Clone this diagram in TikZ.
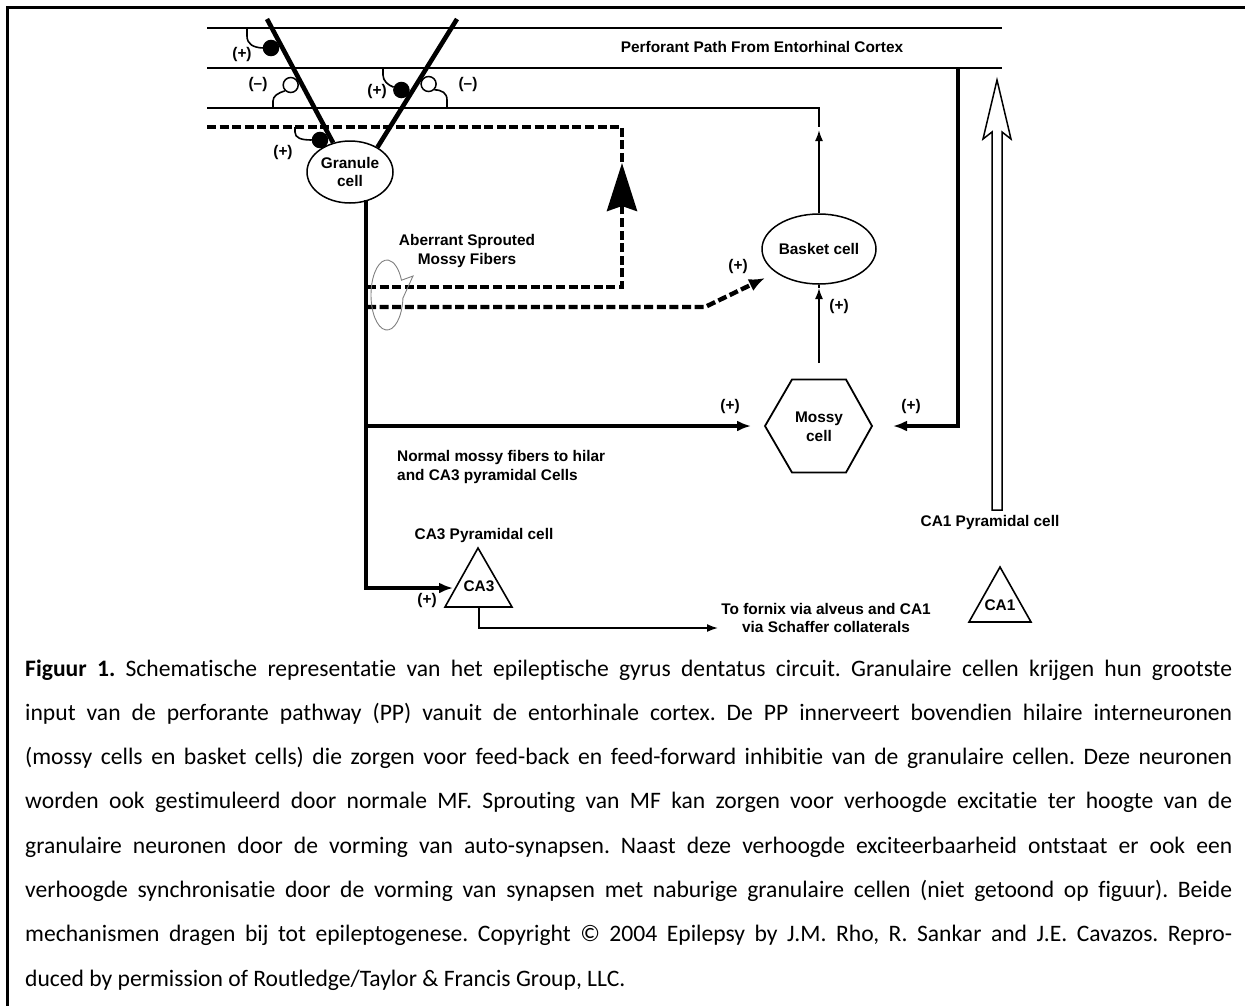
\documentclass[tikz,border=0pt]{standalone}
\usepackage{fontspec}
\setmainfont{Carlito}[Ligatures={NoCommon}]
\newfontfamily\labfont{Liberation Sans}
\usetikzlibrary{arrows.meta,shapes.geometric}
\frenchspacing
\begin{document}
\begin{tikzpicture}[x=1pt,y=-1pt,
  lbl/.style={font=\labfont\bfseries\fontsize{15.4}{18.5}\selectfont, inner sep=0pt, align=center},
  thinln/.style={line width=1.7pt},
  ppln/.style={line width=2.2pt},
  thickln/.style={line width=3.6pt},
  vln/.style={line width=4.6pt},
  dashln/.style={line width=4.4pt, dash pattern=on 9pt off 3.6pt},
  cellshape/.style={draw, line width=1.5pt, ellipse, inner sep=0pt, align=center,
     font=\labfont\bfseries\fontsize{15.4}{18.5}\selectfont},
  syn/.style={circle, draw, line width=1.5pt, minimum size=15pt, inner sep=0pt},
  fsyn/.style={syn, fill=black},
  osyn/.style={syn, fill=white},
  stem/.style={line width=1.6pt},
  tipS/.style={-{Latex[length=11pt,width=8pt]}},
  tipM/.style={-{Latex[length=14pt,width=11pt]}},
  shapeln/.style={line width=1.6pt, line join=miter},
  capline/.style={anchor=base west, inner sep=0pt, font=\fontsize{23.6}{44}\selectfont},
]
\useasboundingbox (0,0) rectangle (1245,1005);
% frame
\draw[line width=3pt, line join=miter] (7.5,1012) -- (7.5,7.5) -- (1252,7.5);

% perforant path lines
\coordinate (ppAL) at (207,28); \coordinate (ppAR) at (1002,28);
\coordinate (ppBL) at (207,68); \coordinate (ppBR) at (1002,68);
\draw[ppln] (ppAL) -- (ppAR);
\draw[ppln] (ppBL) -- (ppBR);
\node[lbl] (pp) at (762,47) {Perforant Path From Entorhinal Cortex};

% inhibitory line from basket cell
\coordinate (mlL) at (207,108); \coordinate (mlR) at (819,127);
\draw[thinln] (mlL) -| (mlR);

% granule cell
\node[cellshape, minimum width=86pt, minimum height=62pt] (granule) at (350,172) {Granule\\cell};
\coordinate (vLtop) at (267,19);
\coordinate (vRtop) at (457,19);
\draw[vln] (vLtop) -- (granule.120);
\draw[vln] (vRtop) -- (granule.42);

% dashed aberrant fibres
\coordinate (dTopL) at (207,127);
\coordinate (dTip) at (622,163);
\coordinate (dUpR) at (622,287);
\coordinate (dUpL) at (367,287);
\draw[dashln] (dTopL) -| (dTip);
\draw[dashln, -{Stealth[length=48pt,width=30pt,inset=5pt]}] (dUpL) -- (dUpR) -- (dTip);
\coordinate (dLoL) at (367,307);
\coordinate (dLoK) at (705,307);
\coordinate (dLoTip) at (765,278);
\draw[dashln, -{Latex[length=16pt,width=13pt]}] (dLoL) -- (dLoK) -- (dLoTip);

% synapses
\node[fsyn] (s1) at (271,48) {};
\node[osyn] (s2) at (290.7,85) {};
\node[fsyn] (s3) at (320,140) {};
\node[fsyn] (s4) at (401.4,90) {};
\node[osyn] (s5) at (428.6,84) {};
\coordinate (st1) at (247,28);
\coordinate (st2) at (273,108);
\coordinate (st4) at (383,68);
\coordinate (st5) at (447,108);
\coordinate (st3) at (295,127);
\draw[stem] (st1) -- ++(0,8) .. controls (247,44) and (253,47.5) .. (s1.west);
\draw[stem] (s2.225) .. controls (278,93) and (273,96) .. (273,101) -- (st2);
\draw[stem] (st4) -- ++(0,7) .. controls (383,81) and (388,85) .. (s4.160);
\draw[stem] (s5.-45) .. controls (442,90) and (447,93) .. (447,100) -- (st5);
\draw[stem] (st3) -- ++(0,5) .. controls (295,138) and (301,140) .. (s3.west);
\node[lbl] (l1) at (242,55) {(+)};
\node[lbl] (l2) at (258,85) {(–)};
\node[lbl] (l3) at (377,92) {(+)};
\node[lbl] (l4) at (468,85) {(–)};
\node[lbl] (l5) at (283,153) {(+)};

% callout
\draw[gray, line width=0.9pt] (402.94,298.05) arc[start angle=5, end angle=335, x radius=16, y radius=35] -- (413,276) -- cycle;
\node[lbl] (aber) at (467,251) {Aberrant Sprouted\\Mossy Fibers};

% basket cell
\node[cellshape, minimum width=114pt, minimum height=70pt] (basket) at (819,249) {Basket cell};
\draw[thinln, tipS] (basket.north) -- (819,130);
\node[lbl] (lb1) at (738,267) {(+)};

% mossy cell
\node[lbl] (mossy) at (819,427) {Mossy\\cell};
\draw[shapeln, line width=1.8pt] (765,426) -- (792,379.5) -- (846,379.5) -- (872,426) -- (846,472.5) -- (792,472.5) -- cycle;
\coordinate (mUp) at (819,363);
\coordinate (bIn) at (819,288);
\draw[thinln, tipS] (mUp) -- (bIn);
\draw[thinln] (basket.south) -- ++(0,3);
\node[lbl] (lb2) at (839,307) {(+)};

% granule axon
\coordinate (gS) at (366,200);
\coordinate (gCorner) at (366,588);
\coordinate (ca3in) at (453,588);
\coordinate (gBranch) at (366,426);
\coordinate (mInL) at (751,426);
\draw[thickln, tipM] (gS) -- (gCorner) -- (ca3in);
\draw[thickln, tipM] (gBranch) -- (mInL);
\node[lbl] (lm1) at (730,407) {(+)};
\node[lbl, align=left, anchor=west] (normal) at (397,467) {Normal mossy fibers to hilar\\and CA3 pyramidal Cells};

% PP to mossy
\coordinate (ppDrop) at (958,68);
\coordinate (mInR) at (893,426);
\draw[thickln, tipM] (ppDrop) -- (958,426) -- (mInR);
\node[lbl] (lm2) at (911,407) {(+)};

% CA3
\draw[shapeln] (478,548) -- (512,607) -- (445,607) -- cycle;
\node[lbl] (ca3) at (479,586) {CA3};
\node[lbl] (ca3lab) at (484,536) {CA3 Pyramidal cell};
\node[lbl] (lc3) at (427,601) {(+)};
\coordinate (ca3out) at (479,607);
\coordinate (fornixIn) at (718,628);
\draw[thinln, tipS] (ca3out) -- (479,628) -- (fornixIn);
\node[lbl] (fornix) at (826,618) {To fornix via alveus and CA1\\via Schaffer collaterals};

% CA1
\draw[shapeln] (1000,567) -- (1031,622) -- (969,622) -- cycle;
\node[lbl] (ca1) at (1000,605) {CA1};
\node[lbl] (ca1lab) at (990,523) {CA1 Pyramidal cell};
\draw[line width=1.5pt, line join=miter, fill=white] (992,510) -- (992,132) -- (983,139) -- (997,80) -- (1011,139) -- (1002,132) -- (1002,510) -- cycle;

% caption
\node[capline] (c1) at (25,676) {\makebox[1207pt][s]{\textbf{Figuur 1.} Schematische representatie van het epileptische gyrus dentatus circuit. Granulaire cellen krijgen hun grootste}};
\node[capline] (c2) at (25,720.3) {\makebox[1207pt][s]{input van de perforante pathway (PP) vanuit de entorhinale cortex. De PP innerveert bovendien hilaire interneuronen}};
\node[capline] (c3) at (25,764.6) {\makebox[1207pt][s]{(mossy cells en basket cells) die zorgen voor feed-back en feed-forward inhibitie van de granulaire cellen. Deze neuronen}};
\node[capline] (c4) at (25,808.9) {\makebox[1207pt][s]{worden ook gestimuleerd door normale MF. Sprouting van MF kan zorgen voor verhoogde excitatie ter hoogte van de}};
\node[capline] (c5) at (25,853.2) {\makebox[1207pt][s]{granulaire neuronen door de vorming van auto-synapsen. Naast deze verhoogde exciteerbaarheid ontstaat er ook een}};
\node[capline] (c6) at (25,897.5) {\makebox[1207pt][s]{verhoogde synchronisatie door de vorming van synapsen met naburige granulaire cellen (niet getoond op figuur). Beide}};
\node[capline] (c7) at (25,941.8) {\makebox[1207pt][s]{mechanismen dragen bij tot epileptogenese. Copyright © 2004 Epilepsy by J.M. Rho, R. Sankar and J.E. Cavazos. Repro-}};
\node[capline] (c8) at (25,986.1) {duced by permission of Routledge/Taylor \& Francis Group, LLC.};
\end{tikzpicture}
\end{document}
